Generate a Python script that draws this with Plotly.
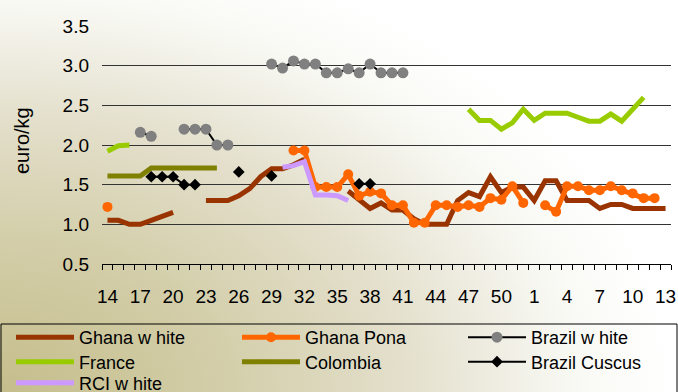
import base64
import plotly.graph_objects as go

weeks = ["14", "15", "16", "17", "18", "19", "20", "21", "22", "23", "24", "25", "26",
         "27", "28", "29", "30", "31", "32", "33", "34", "35", "36", "37", "38", "39",
         "40", "41", "42", "43", "44", "45", "46", "47", "48", "49", "50", "51", "52",
         "1", "2", "3", "4", "5", "6", "7", "8", "9", "10", "11", "12", "13"]
tick_labels = ["14", "17", "20", "23", "26", "29", "32", "35", "38", "41", "44", "47",
               "50", "1", "4", "7", "10", "13"]

N = None
ghana_white = [1.05, 1.05, 1.00, 1.00, 1.05, 1.10, 1.15, N, N, 1.30, 1.30, 1.30, 1.36,
               1.45, 1.60, 1.70, 1.70, 1.75, 1.82, N, N, N, 1.42, 1.30, 1.20, 1.27,
               1.18, 1.18, 1.07, 1.00, 1.00, 1.00, 1.30, 1.40, 1.35, 1.60, 1.40, 1.47, 1.47,
               1.30, 1.55, 1.55, 1.30, 1.30, 1.30, 1.20, 1.25, 1.25, 1.20, 1.20, 1.20, 1.20]
ghana_pona = [1.22, N, N, N, N, N, N, N, N, N, N, N, N,
              N, N, N, N, 1.93, 1.93, 1.47, 1.47, 1.47, 1.63, 1.36, 1.41, 1.39,
              1.24, 1.24, 1.02, 1.02, 1.24, 1.24, 1.22, 1.24, 1.22, 1.33, 1.31, 1.48, 1.27,
              N, 1.24, 1.16, 1.48, 1.48, 1.43, 1.43, 1.48, 1.43, 1.39, 1.33, 1.33, N]
brazil_white = [N, N, N, 2.16, 2.11, N, N, 2.20, 2.20, 2.20, 2.00, 2.00, N,
                N, N, 3.02, 2.97, 3.06, 3.02, 3.02, 2.91, 2.91, 2.96, 2.91, 3.02, 2.91,
                2.91, 2.91, N, N, N, N, N, N, N, N, N, N, N,
                N, N, N, N, N, N, N, N, N, N, N, N, N]
france = [1.92, 1.99, 2.00, N, N, N, N, N, N, N, N, N, N,
          N, N, N, N, N, N, N, N, N, N, N, N, N,
          N, N, N, N, N, N, N, 2.45, 2.31, 2.31, 2.20, 2.28, 2.45,
          2.31, 2.40, 2.40, 2.40, 2.35, 2.30, 2.30, 2.39, 2.30, 2.46, 2.60, N, N]
colombia = [1.61, 1.61, 1.61, 1.61, 1.71, 1.71, 1.71, 1.71, 1.71, 1.71, 1.71, N, N,
            N, N, N, N, N, N, N, N, N, N, N, N, N,
            N, N, N, N, N, N, N, N, N, N, N, N, N,
            N, N, N, N, N, N, N, N, N, N, N, N, N]
brazil_cuscus = [N, N, N, N, 1.60, 1.60, 1.60, 1.50, 1.50, N, N, N, 1.66,
                 N, N, 1.61, N, N, N, N, N, N, N, 1.51, 1.51, N,
                 N, N, N, N, N, N, N, N, N, N, N, N, N,
                 N, N, N, N, N, N, N, N, N, N, N, N, N]
rci_white = [N, N, N, N, N, N, N, N, N, N, N, N, N,
             N, N, N, 1.72, 1.74, 1.79, 1.37, 1.37, 1.36, 1.30, N, N, N,
             N, N, N, N, N, N, N, N, N, N, N, N, N,
             N, N, N, N, N, N, N, N, N, N, N, N, N]

W, H = 678, 392
L, R, T, B = 102, 7, 26, 128
pw, ph = W - L - R, H - T - B

FONT = "Liberation Sans, Arial, sans-serif"

legend_cols = [11, 237, 463]
legend_rows = [337.5, 362, 383]

fig = go.Figure()

def add(name, y, color, legend_id, width=5, marker=None):
    kw = dict(x=weeks, y=y, name=name, connectgaps=False,
              line=dict(color=color, width=width), legend=legend_id)
    if marker:
        kw["mode"] = "lines+markers"
        kw["marker"] = marker
    else:
        kw["mode"] = "lines"
    fig.add_trace(go.Scatter(**kw))

add("Ghana w hite", ghana_white, "#993300", "legend")
add("Ghana Pona", ghana_pona, "#FF6600", "legend2",
    marker=dict(color="#FF6600", size=10, symbol="circle"))
add("Brazil w hite", brazil_white, "#000000", "legend3", width=2,
    marker=dict(color="#808080", size=11, symbol="circle"))
add("France", france, "#99CC00", "legend4")
add("Colombia", colombia, "#808000", "legend5")
add("Brazil Cuscus", brazil_cuscus, "#000000", "legend6", width=2,
    marker=dict(color="#000000", size=9, symbol="diamond"))
add("RCI w hite", rci_white, "#CC99FF", "legend7")

slots = {"legend": (0, 0), "legend2": (1, 0), "legend3": (2, 0),
         "legend4": (0, 1), "legend5": (1, 1), "legend6": (2, 1), "legend7": (0, 2)}
legends = {}
for lid, (c, r) in slots.items():
    legends[lid] = dict(xref="container", yref="container",
                        x=legend_cols[c] / W, xanchor="left",
                        y=1 - legend_rows[r] / H, yanchor="middle",
                        font=dict(family=FONT, size=18, color="#000000"),
                        itemwidth=58, bgcolor="rgba(0,0,0,0)", borderwidth=0)

svg = f'''<svg xmlns="http://www.w3.org/2000/svg" width="{W}" height="{H}" viewBox="0 0 {W} {H}" preserveAspectRatio="none">
<defs><radialGradient id="g" gradientUnits="userSpaceOnUse" cx="0" cy="0" r="1"
 gradientTransform="translate(0,{H}) scale(670,455)">
<stop offset="0" stop-color="#c5bd8b"/>
<stop offset="0.35" stop-color="#d4cfab"/>
<stop offset="0.6" stop-color="#e3dfcb"/>
<stop offset="0.85" stop-color="#f8f8f3"/>
<stop offset="1" stop-color="#ffffff"/>
</radialGradient></defs>
<rect x="0" y="0" width="{W}" height="{H}" fill="url(#g)"/></svg>'''
src = "data:image/svg+xml;base64," + base64.b64encode(svg.encode()).decode()

fig.add_layout_image(dict(source=src, xref="paper", yref="paper",
                          x=-L / pw, y=1 + T / ph, sizex=W / pw, sizey=H / ph,
                          xanchor="left", yanchor="top", sizing="stretch", layer="below"))

# legend frame
fig.add_shape(type="rect", xref="paper", yref="paper",
              x0=(1 - L) / pw, x1=(677 - L) / pw,
              y0=-(H + 5 - T - ph) / ph, y1=-(324 - T - ph) / ph,
              line=dict(color="#000000", width=1), fillcolor="rgba(0,0,0,0)")

# y-axis title
fig.add_annotation(text="euro/kg", xref="paper", yref="paper",
                   x=(22 - L) / pw, y=(T + ph - 141) / ph, textangle=-90,
                   showarrow=False, font=dict(family=FONT, size=20, color="#000000"),
                   xanchor="center", yanchor="middle")

fig.update_layout(
    width=W, height=H,
    margin=dict(l=L, r=R, t=T, b=B, autoexpand=False),
    paper_bgcolor="#ffffff",
    plot_bgcolor="rgba(0,0,0,0)",
    font=dict(family=FONT, color="#000000", size=19),
    showlegend=True,
    xaxis=dict(type="category", categoryorder="array", categoryarray=weeks,
               tickmode="array", tickvals=weeks,
               ticktext=[w if w in tick_labels else "" for w in weeks],
               tickson="boundaries", ticks="outside", ticklen=5, tickcolor="#000000",
               tickangle=0,
               showline=True, linecolor="#000000", linewidth=1,
               showgrid=False, zeroline=False, ticklabelstandoff=15,
               tickfont=dict(size=19), range=[-0.5, len(weeks) - 0.5]),
    yaxis=dict(range=[0.5, 3.5], dtick=0.5, tick0=0.5, tickformat=".1f",
               showgrid=True, gridcolor="#333333", gridwidth=1,
               showline=False, zeroline=False, ticks="",
               ticklabelstandoff=12, tickfont=dict(size=19)),
    **legends,
)

fig.write_html("out.html", config={"displayModeBar": False},
               post_script="document.body.style.margin='0';document.body.style.padding='0';")
